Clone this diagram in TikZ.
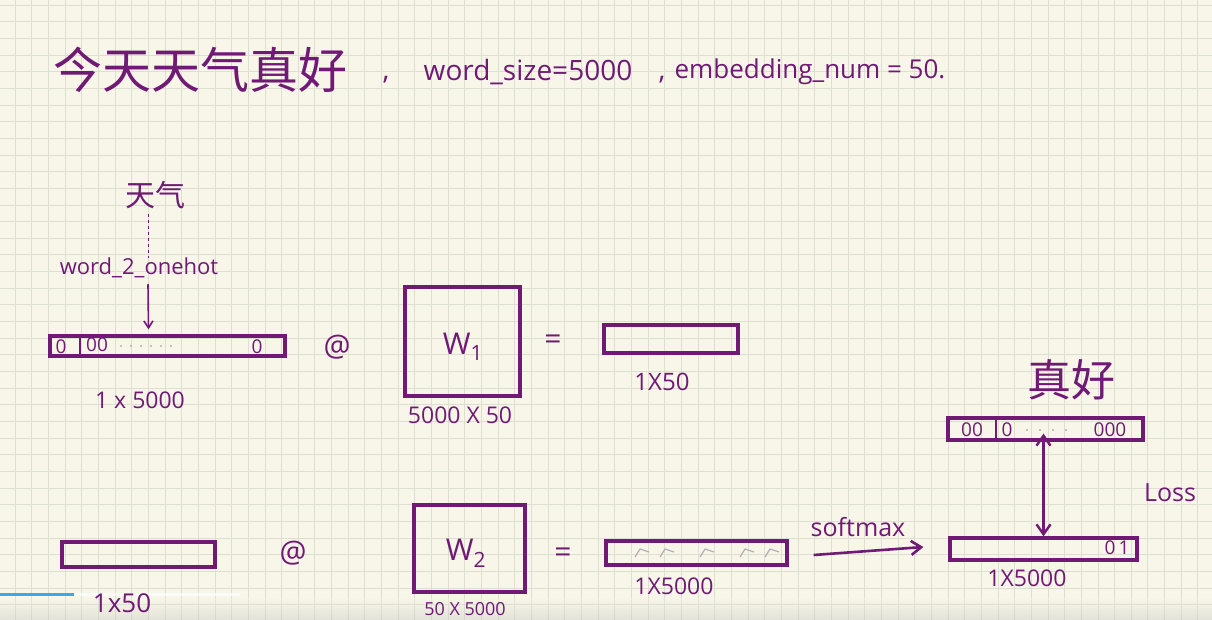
\documentclass[tikz,border=0pt]{standalone}
\usepackage{fontspec}
\setmainfont{Open Sans}
\newfontfamily\cjk{Noto Sans CJK SC}
\usetikzlibrary{arrows.meta}
\definecolor{ink}{RGB}{112,26,118}
\definecolor{paper}{RGB}{247,246,232}
\definecolor{gridc}{RGB}{221,223,211}
\definecolor{faint}{RGB}{185,172,182}
\definecolor{barblue}{RGB}{59,169,232}
\newcommand{\fs}[1]{\fontsize{#1pt}{#1pt}\selectfont}
\begin{document}
\begin{tikzpicture}[x=1pt,y=-1pt,
  ink/.style={draw=ink,line width=3.2pt},
  bar/.style={ink,inner sep=0pt,rectangle},
  lbl/.style={text=ink,inner sep=0pt,font=\fs{23}},
  cell/.style={text=ink,inner sep=0pt,font=\fs{19}},
  thinarrow/.style={draw=ink,line width=1.6pt,-{Straight Barb[length=7pt,width=9pt]}},
  bigarrow/.style={draw=ink,line width=2.6pt,-{Straight Barb[length=10pt,width=14pt]}},
  dotc/.style={fill=faint,draw=none}]
\useasboundingbox (0,0) rectangle (1212,620);
\fill[paper] (0,0) rectangle (1212,620);
\foreach \i in {0,...,72} \draw[gridc,line width=0.8pt] ({15+16.66*\i},0) -- ({15+16.66*\i},620);
\foreach \j in {0,...,37} \draw[gridc,line width=0.8pt] (0,{5+16.66*\j}) -- (1212,{5+16.66*\j});
% video overlay
\shade[top color=paper,bottom color=black!25,opacity=0.35,draw=none] (0,598) rectangle (1212,620);
\draw[white,line width=3pt,opacity=0.7] (74,594) -- (240,594);
\draw[barblue,line width=3pt] (0,594) -- (74,594);

% title
\node[text=ink,inner sep=0pt,font=\cjk\fs{49}] (title) at (200,70) {今天天气真好};
\node[lbl,font=\fs{28}] (c1) at (386,80) {,};
\node[lbl,font=\fs{28}] (ws) at (528,72) {word\_size=5000};
\node[lbl,font=\fs{28}] (c2) at (662,80) {,};
\node[lbl,font=\fs{26}] (en) at (810,72) {embedding\_num = 50.};

% first row
\node[text=ink,inner sep=0pt,font=\cjk\fs{30}] (tq) at (155,195) {天气};
\node[lbl,font=\fs{22}] (oh) at (139,268) {word\_2\_onehot};
\node[bar,minimum width=235pt,minimum height=20pt] (x1) at (167.5,346) {};
\draw[draw=ink,line width=1.6pt,dashed] (tq.south -| x1.north) ++(-19,5) coordinate (d0) -- (d0 |- oh.north) ;
\draw[thinarrow] ([xshift=9pt,yshift=-6pt]oh.south) -- ([xshift=-19pt,yshift=5pt]x1.north);
\node[cell] (x1a) at (61,347) {0};
\draw[ink,line width=2.2pt] (80,337) -- (80,355);
\node[cell] (x1b) at (97,345) {00};
\foreach \d in {121,131,141,151,161,171} \fill[dotc] (\d,346) circle (1.2pt);
\node[cell] (x1c) at (257,347) {0};
\node[lbl] (l1) at (140,400) {1 x 5000};

\node[lbl,font=\fs{30}] (at1) at (337,347) {@};
\node[bar,minimum width=115pt,minimum height=109pt] (w1) at (462.5,341.5) {};
\node[lbl,font=\fs{30}] (w1t) at (463,347) {W\textsubscript{1}};
\node[lbl] (lw1) at (460,415) {5000 X 50};
\node[lbl,font=\fs{30}] (eq1) at (553,342) {=};
\node[bar,minimum width=134pt,minimum height=28pt] (h1) at (671,339) {};
\node[lbl,font=\fs{24}] (lh1) at (662,382) {1X50};

% target
\node[text=ink,inner sep=0pt,font=\cjk\fs{44}] (zh) at (1071,380) {真好};
\node[bar,minimum width=195pt,minimum height=22pt] (tgt) at (1045.5,429) {};
\node[cell] (t1) at (972,430) {00};
\draw[ink,line width=2.2pt] (996,419) -- (996,439);
\node[cell] (t2) at (1007,430) {0};
\foreach \d in {1027,1040,1053,1066} \fill[dotc] (\d,430) circle (1.2pt);
\node[cell] (t3) at (1110,430) {000};
\node[lbl,font=\fs{25}] (loss) at (1170,493) {Loss};

% second row
\node[bar,minimum width=153pt,minimum height=25pt] (x2) at (138.5,554.5) {};
\node[lbl,font=\fs{26}] (lx2) at (122,603) {1x50};
\node[lbl,font=\fs{30}] (at2) at (293,553) {@};
\node[bar,minimum width=111pt,minimum height=87pt] (w2) at (469.5,548.5) {};
\node[lbl,font=\fs{30}] (w2t) at (466,553) {W\textsubscript{2}};
\node[lbl,font=\fs{18}] (lw2) at (465,609) {50 X 5000};
\node[lbl,font=\fs{30}] (eq2) at (563,555) {=};
\node[bar,minimum width=181pt,minimum height=24pt] (z2) at (696.5,553) {};
\foreach \s in {640,665,705,745,770}
  \draw[faint,line width=1.2pt] (\s-5,557) -- (\s,549) -- (\s+9,552);
\node[lbl] (lz2) at (674,586) {1X5000};
\node[lbl,font=\fs{25}] (sm) at (858,527) {softmax};
\node[bar,minimum width=187pt,minimum height=22pt] (out) at (1043.5,549) {};
\node[cell] (o1) at (1110,548) {0};
\node[cell] (o2) at (1124,548) {1};
\node[lbl] (lout) at (1027,578) {1X5000};
\draw[bigarrow] ([xshift=25pt,yshift=-2pt]z2.east) -- ([xshift=-25pt,yshift=2pt]out.west);
\draw[draw=ink,line width=2.4pt,{Straight Barb[length=10pt,width=14pt]}-{Straight Barb[length=10pt,width=14pt]}]
  ([yshift=8pt]tgt.south -| out.north) -- (out.north);
\end{tikzpicture}
\end{document}
